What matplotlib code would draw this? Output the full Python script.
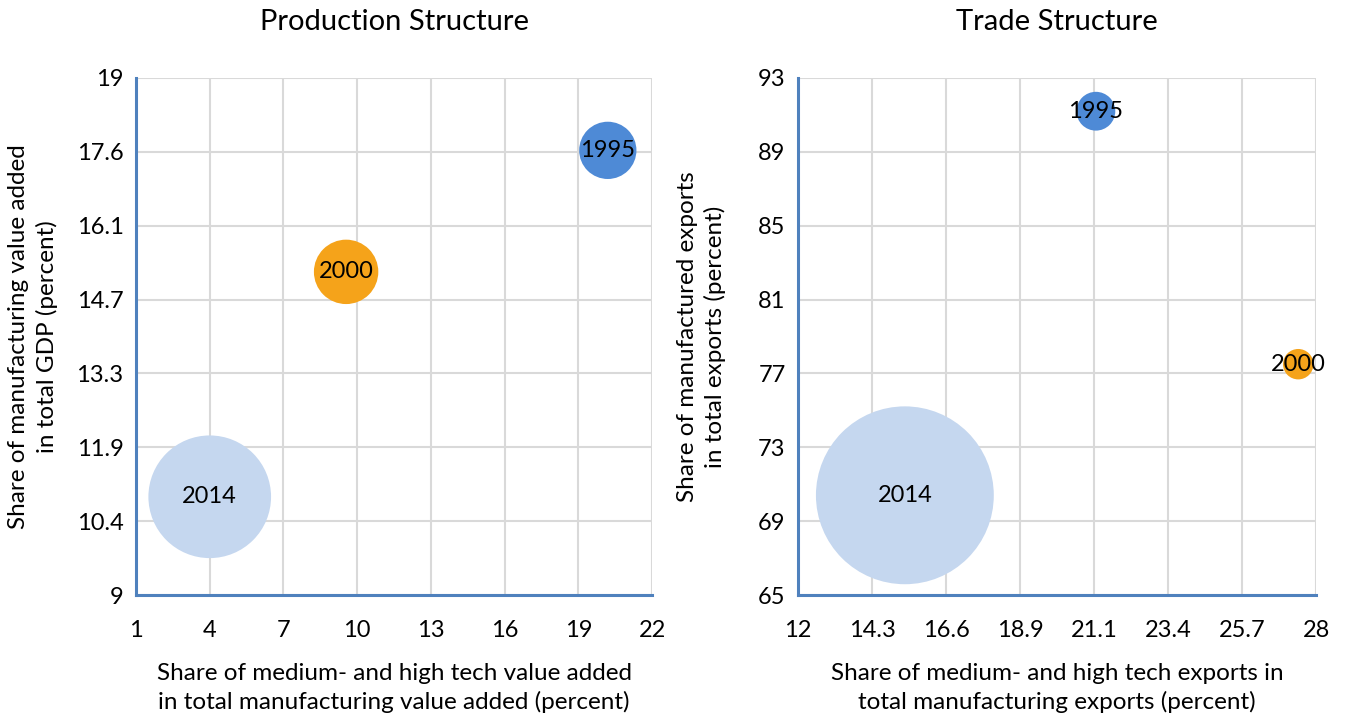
import numpy as np
import matplotlib.pyplot as plt

plt.rcParams['font.family'] = ['Lato', 'DejaVu Sans']

years = ['1995', '2000', '2014']
colors = ['#4E8AD6', '#F5A31A', '#C5D7EF']

# production structure
prod_x = [20.2, 9.55, 4.0]
prod_y = [17.6, 15.25, 10.9]
prod_size = [1700, 2150, 7800]

# trade structure
trade_x = [21.2, 27.45, 15.3]
trade_y = [91.2, 77.5, 70.4]
trade_size = [780, 480, 16400]

prod_xticks = [1, 4, 7, 10, 13, 16, 19, 22]
prod_yticks = np.linspace(9, 19, 8)
trade_xticks = np.linspace(12, 28, 8)
trade_yticks = [65, 69, 73, 77, 81, 85, 89, 93]

spine_col = '#4F81BD'
grid_col = '#D9D9D9'


def fmt(v):
    return '%g' % round(v, 1)


def panel(ax, xs, ys, sizes, xticks, yticks, title, xlabel, ylabel, ylx):
    ax.scatter(xs, ys, s=sizes, c=colors, zorder=3, clip_on=False, linewidths=0)
    for x, y, t in zip(xs, ys, years):
        ax.text(x, y, t, ha='center', va='center', fontsize=17, zorder=4)
    ax.set_xlim(xticks[0], xticks[-1])
    ax.set_ylim(yticks[0], yticks[-1])
    ax.set_xticks(xticks)
    ax.set_yticks(yticks)
    ax.set_xticklabels([fmt(v) for v in xticks], fontsize=17)
    ax.set_yticklabels([fmt(v) for v in yticks], fontsize=17)
    ax.tick_params(axis='x', length=0, pad=18)
    ax.tick_params(axis='y', length=0, pad=9)
    ax.grid(True, color=grid_col, linewidth=1.5, zorder=0)
    ax.set_axisbelow(True)
    for s in ['top', 'right']:
        ax.spines[s].set_visible(False)
    for s in ['left', 'bottom']:
        ax.spines[s].set_color(spine_col)
        ax.spines[s].set_linewidth(2.2)
    ax.text(0.5, 1.108, title, transform=ax.transAxes, ha='center', va='center',
            fontsize=21)
    ax.text(0.5, -0.18, xlabel, transform=ax.transAxes, ha='center', va='center',
            fontsize=17.5, linespacing=1.35)
    ax.text(ylx, 0.5, ylabel, transform=ax.transAxes, ha='center', va='center',
            fontsize=17.5, linespacing=1.35, rotation=90)


fig = plt.figure(figsize=(13.48, 7.2), dpi=100)
ax1 = fig.add_axes([0.1009, 0.1736, 0.3828, 0.7181])
ax2 = fig.add_axes([0.592, 0.1736, 0.3843, 0.7181])

panel(ax1, prod_x, prod_y, prod_size, prod_xticks, prod_yticks,
      'Production Structure',
      'Share of medium- and high tech value added\nin total manufacturing value added (percent)',
      'Share of manufacturing value added\nin total GDP (percent)', -0.2)
panel(ax2, trade_x, trade_y, trade_size, trade_xticks, trade_yticks,
      'Trade Structure',
      'Share of medium- and high tech exports in\ntotal manufacturing exports (percent)',
      'Share of manufactured exports\nin total exports (percent)', -0.186)

fig.savefig('out.png', dpi=100)
